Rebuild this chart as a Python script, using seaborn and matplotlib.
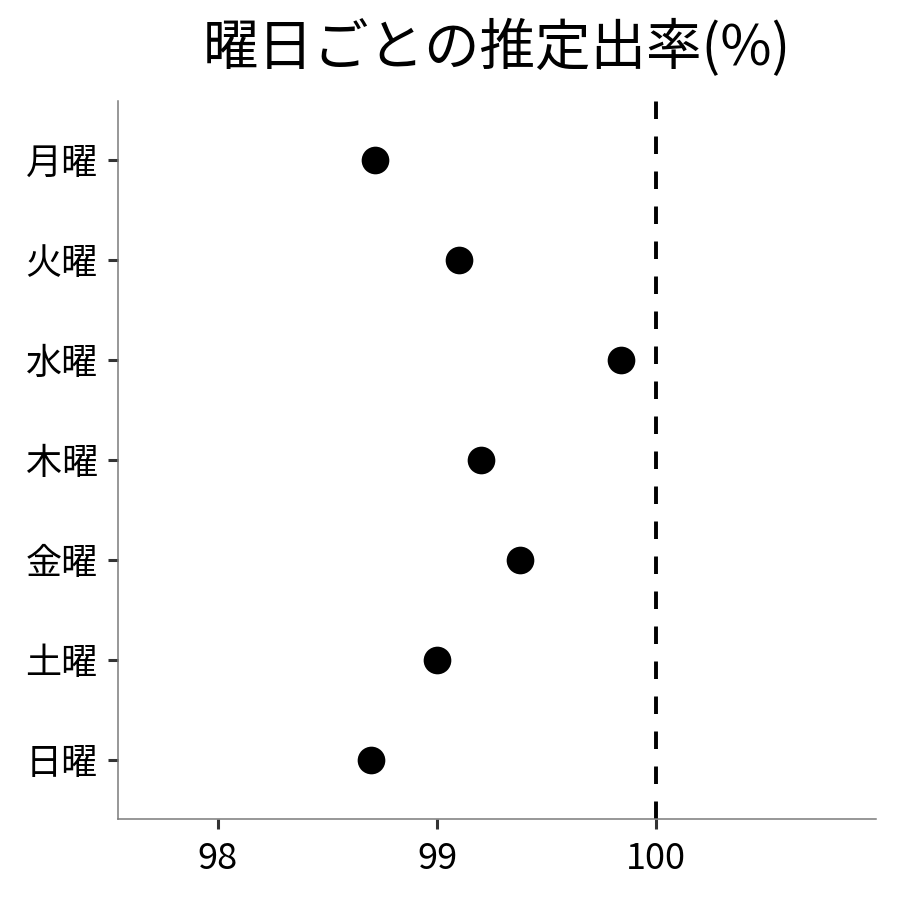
import matplotlib
matplotlib.use("Agg")
import matplotlib.pyplot as plt
import seaborn as sns
import pandas as pd

# datos
dias = ["月曜", "火曜", "水曜", "木曜", "金曜", "土曜", "日曜"]
tasa = [98.715, 99.10, 99.84, 99.20, 99.38, 99.00, 98.70]
linea_ref = 100
ticks_x = [98, 99, 100]

df = pd.DataFrame({"dia": dias, "tasa": tasa})

sns.set_style("white")
plt.rcParams['font.family'] = ['Noto Sans CJK JP', 'DejaVu Sans']

fig, ax = plt.subplots(figsize=(9, 9), dpi=100)
sns.scatterplot(data=df, x="tasa", y="dia", color="black", s=340, edgecolor="black", ax=ax, zorder=3)
ax.axvline(linea_ref, color="black", linestyle=(0, (4.5, 4.5)), linewidth=2.8)

ax.set_xlim(97.545, 101.0)
ax.set_ylim(6.59, -0.59)
ax.set_xticks(ticks_x)
ax.set_xlabel("")
ax.set_ylabel("")
ax.set_title("曜日ごとの推定出率(%)", fontsize=40, pad=26, color="black")

for s in ["top", "right"]:
    ax.spines[s].set_visible(False)
for s in ["left", "bottom"]:
    ax.spines[s].set_color("#7a7a7a")
    ax.spines[s].set_linewidth(1.1)
ax.tick_params(axis="both", labelsize=26, length=7.5, width=2.2, color="#333333", direction="out",
               labelcolor="black", bottom=True, left=True)
ax.tick_params(axis="y", pad=7)
ax.tick_params(axis="x", pad=8)

fig.subplots_adjust(left=0.131, right=0.973, bottom=0.09, top=0.888)
fig.savefig("out.png", dpi=100)
